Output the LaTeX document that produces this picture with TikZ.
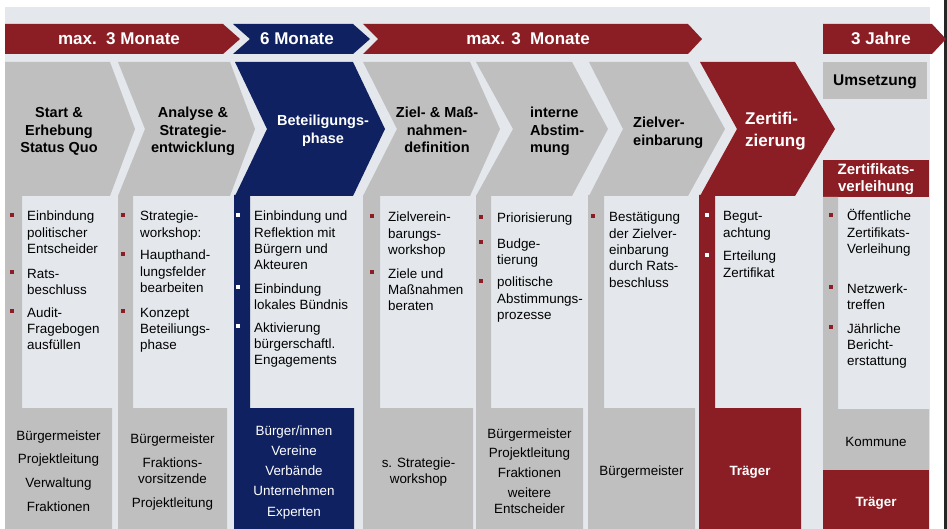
\documentclass[tikz,border=0pt]{standalone}
\usepackage{fontspec}
\setmainfont{Liberation Sans}
\definecolor{maroon}{RGB}{139,30,36}
\definecolor{navy}{RGB}{15,33,96}
\definecolor{stepgray}{RGB}{191,191,191}
\definecolor{canvas}{RGB}{228,232,236}
% small square bullet: x, y, colour
\newcommand\sqbullet[3]{\fill[#3] (#1,#2) ++(-1.7,-1.7) rectangle ++(3.4,3.4);}
% line stack whose baseline is the baseline of its first line
\newcommand\stack[2][l]{\begin{tabular}[t]{@{}#1@{}}#2\end{tabular}}
\begin{document}
\begin{tikzpicture}[x=1pt,y=-1pt,
  band/.style={font=\fontsize{17}{20}\selectfont\bfseries, text=white, inner sep=0pt, anchor=base},
  phase/.style={font=\fontsize{14.5}{17.5}\selectfont\bfseries, inner sep=0pt, anchor=base},
  phaseleft/.style={phase, anchor=base west},
  item/.style={font=\fontsize{13.4}{16.3}\selectfont, inner sep=0pt, anchor=base west},
  who/.style={font=\fontsize{13.4}{16.3}\selectfont, inner sep=0pt, anchor=base},
  whobold/.style={who, text=white, font=\fontsize{13.4}{16.3}\selectfont\bfseries},
]
\useasboundingbox (0,0) rectangle (947,529);
\fill[white] (0,0) rectangle (947,529);
\fill[canvas] (5,7) rectangle (930,529);
\draw[line width=2.5pt, black!85] (945.5,0) -- (945.5,529);

% ---- time bands ----
\fill[maroon] (5,24) -- (223,24) -- (240,39) -- (223,54) -- (5,54) -- cycle;
\fill[navy] (233,24) -- (353,24) -- (370,39) -- (353,54) -- (233,54) -- (250,39) -- cycle;
\fill[maroon] (363,24) -- (688,24) -- (702,39) -- (688,54) -- (363,54) -- (378,39) -- cycle;
\fill[maroon] (823,24) -- (932,24) -- (946,39) -- (932,54) -- (823,54) -- cycle;
\node[band] (t1) at (119,45) {max.\ \ 3 Monate};
\node[band] (t2) at (297,45) {6 Monate};
\node[band] (t3) at (528,45) {max. 3\ \ Monate};
\node[band] (t4) at (881,45) {3 Jahre};

% ---- phase chevrons ----
\fill[stepgray] (5,62) -- (110,62) -- (135,129) -- (110,196) -- (5,196) -- cycle;
\fill[stepgray] (118,62) -- (230,62) -- (255,129) -- (230,196) -- (118,196) -- (145,129) -- cycle;
\fill[navy] (235,62) -- (353,62) -- (385,129) -- (353,196) -- (235,196) -- (267,129) -- cycle;
\fill[stepgray] (363,62) -- (470,62) -- (500,129) -- (470,196) -- (363,196) -- (397,129) -- cycle;
\fill[stepgray] (476,62) -- (572,62) -- (608,129) -- (572,196) -- (476,196) -- (513,129) -- cycle;
\fill[stepgray] (589,62) -- (688,62) -- (725,129) -- (688,196) -- (589,196) -- (623,129) -- cycle;
\fill[maroon] (700,62) -- (795,62) -- (835,129) -- (795,196) -- (700,196) -- (737,129) -- cycle;

% ---- columns: left strip and bottom box ----
\fill[stepgray] (5,195) rectangle (22,408) (5,408) rectangle (112,529);
\fill[stepgray] (118,195) rectangle (133,408) (118,408) rectangle (227,529);
\fill[navy] (234,195) rectangle (250,408) (234,408) rectangle (354,529);
\fill[stepgray] (363,195) rectangle (380,408) (363,408) rectangle (473,529);
\fill[stepgray] (476,195) rectangle (491,408) (476,408) rectangle (583,529);
\fill[stepgray] (588,195) rectangle (604,408) (588,408) rectangle (695,529);
\fill[maroon] (699,195) rectangle (715,408) (699,408) rectangle (801,529);
% last column
\fill[stepgray] (823,62) rectangle (927,99);
\fill[maroon] (823,160) rectangle (929,197);
\fill[stepgray] (823,197) rectangle (838,409) (823,409) rectangle (929,470);
\fill[maroon] (823,470) rectangle (929,529);

% ---- phase titles ----
\node[phase] (p1) at (59,118) {\stack[c]{Start \&\\Erhebung\\Status Quo}};
\node[phase] (p2) at (193,118) {\stack[c]{Analyse \&\\Strategie-\\entwicklung}};
\node[phase, text=white, font=\fontsize{14.5}{18}\selectfont\bfseries] (p3) at (323,126) {\stack[c]{Beteiligungs-\\phase}};
\node[phase] (p4) at (437,118) {\stack[c]{Ziel- \& Maß-\\nahmen-\\definition}};
\node[phaseleft] (p5) at (530,118) {\stack{interne\\Abstim-\\mung}};
\node[phaseleft] (p6) at (633,128) {\stack{Zielver-\\einbarung}};
\node[phaseleft, text=white, font=\fontsize{17}{22}\selectfont\bfseries] (p7) at (745,125) {\stack{Zertifi-\\zierung}};
\node[phase, font=\fontsize{15.5}{18}\selectfont\bfseries] (p8) at (875,86) {Umsetzung};
\node[phase, text=white, font=\fontsize{15}{16.5}\selectfont\bfseries] (p9) at (876,175) {\stack[c]{Zertifikats-\\verleihung}};

% ---- column 1 ----
\sqbullet{12}{215}{maroon} \node[item] (a1) at (27,221) {\stack{Einbindung\\politischer\\Entscheider}};
\sqbullet{12}{272}{maroon} \node[item] (a2) at (27,278) {\stack{Rats-\\beschluss}};
\sqbullet{12}{311}{maroon} \node[item] (a3) at (27,317) {\stack{Audit-\\Fragebogen\\ausfüllen}};
% ---- column 2 ----
\sqbullet{123}{215}{maroon} \node[item] (b1) at (140,221) {\stack{Strategie-\\workshop:}};
\sqbullet{123}{254}{maroon} \node[item] (b2) at (140,260) {\stack{Haupthand-\\lungsfelder\\bearbeiten}};
\sqbullet{123}{311}{maroon} \node[item] (b3) at (140,317) {\stack{Konzept\\Beteiliungs-\\phase}};
% ---- column 3 ----
\sqbullet{238}{215}{white} \node[item] (c1) at (254,221) {\stack{Einbindung und\\Reflektion mit\\Bürgern und\\Akteuren}};
\sqbullet{238}{287}{white} \node[item] (c2) at (254,293) {\stack{Einbindung\\lokales Bündnis}};
\sqbullet{238}{326}{white} \node[item] (c3) at (254,332) {\stack{Aktivierung\\bürgerschaftl.\\Engagements}};
% ---- column 4 ----
\sqbullet{372}{216}{maroon} \node[item] (d1) at (388,222) {\stack{Zielverein-\\barungs-\\workshop}};
\sqbullet{372}{272}{maroon} \node[item] (d2) at (388,278) {\stack{Ziele und\\Maßnahmen\\beraten}};
% ---- column 5 ----
\sqbullet{481}{217}{maroon} \node[item] (e1) at (497,223) {Priorisierung};
\sqbullet{481}{242}{maroon} \node[item] (e2) at (497,248) {\stack{Budge-\\tierung}};
\sqbullet{481}{281}{maroon} \node[item] (e3) at (497,287) {\stack{politische\\Abstimmungs-\\prozesse}};
% ---- column 6 ----
\sqbullet{593}{216}{maroon} \node[item] (f1) at (609,222) {\stack{Bestätigung\\der Zielver-\\einbarung\\durch Rats-\\beschluss}};
% ---- column 7 ----
\sqbullet{707}{215}{white} \node[item] (g1) at (723,221) {\stack{Begut-\\achtung}};
\sqbullet{707}{255}{white} \node[item] (g2) at (723,261) {\stack{Erteilung\\Zertifikat}};
% ---- column 8 ----
\sqbullet{831}{215}{maroon} \node[item] (h1) at (847,221) {\stack{Öffentliche\\Zertifikats-\\Verleihung}};
\sqbullet{831}{287}{maroon} \node[item] (h2) at (847,293) {\stack{Netzwerk-\\treffen}};
\sqbullet{831}{327}{maroon} \node[item] (h3) at (847,333) {\stack{Jährliche\\Bericht-\\erstattung}};

% ---- participants ----
\node[who] (w1) at (58.5,440) {\stack[c]{Bürgermeister\\[7.4pt]Projektleitung\\[7.4pt]Verwaltung\\[7.4pt]Fraktionen}};
\node[who] (w2) at (172.5,443) {\stack[c]{Bürgermeister\\[7.7pt]Fraktions-\\vorsitzende\\[7.7pt]Projektleitung}};
\node[who, text=white] (w3) at (294,435) {\stack[c]{Bürger/innen\\[4pt]Vereine\\[4pt]Verbände\\[4pt]Unternehmen\\[4pt]Experten}};
\node[who] (w4) at (418.5,467) {\stack[c]{s. Strategie-\\workshop}};
\node[who] (w5) at (529.5,438) {\stack[c]{Bürgermeister\\[3.4pt]Projektleitung\\[3.4pt]Fraktionen\\[3.4pt]weitere\\Entscheider}};
\node[who] (w6) at (641.5,475) {Bürgermeister};
\node[whobold] (w7) at (750,475) {Träger};
\node[who] (w8) at (876,446) {Kommune};
\node[whobold] (w9) at (876,506) {Träger};
\end{tikzpicture}
\end{document}
